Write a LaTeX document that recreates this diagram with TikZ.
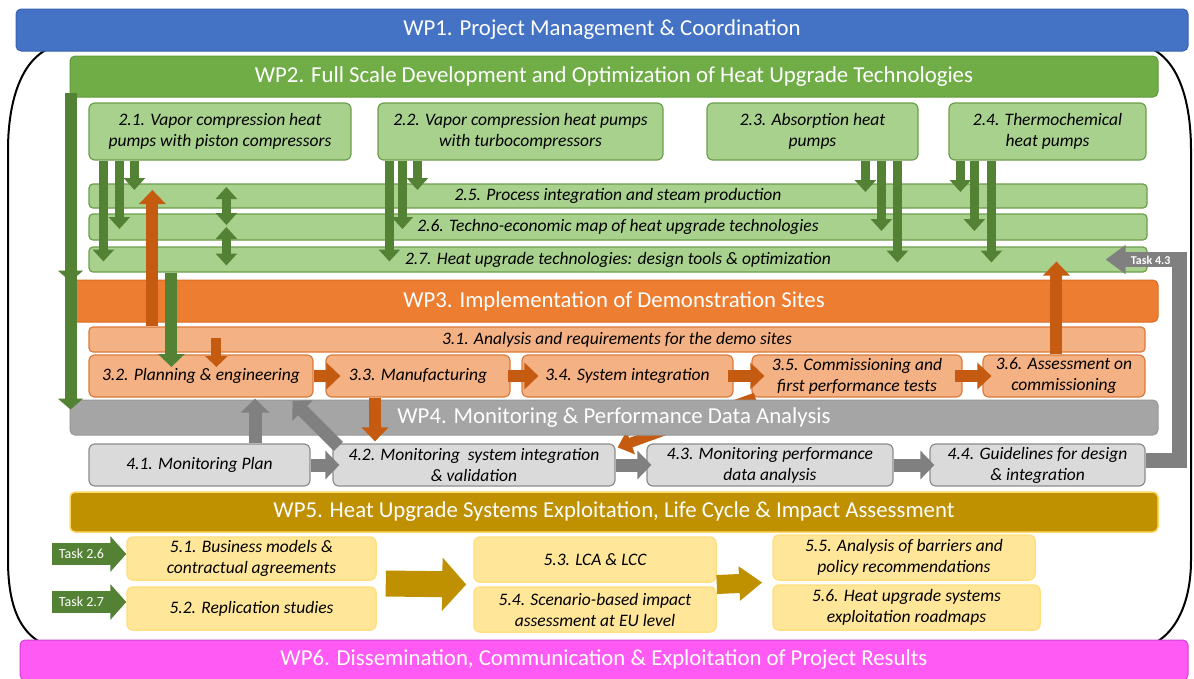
\documentclass[tikz,border=0pt]{standalone}
\usepackage{fontspec}
\setmainfont{Carlito}
\usetikzlibrary{arrows.meta,calc}

\definecolor{wpblue}{HTML}{4472C4}
\definecolor{wpblueline}{HTML}{3A63AE}
\definecolor{wpgreen}{HTML}{70AD47}
\definecolor{wpgreenline}{HTML}{5E9A3A}
\definecolor{tgreen}{HTML}{A9D18E}
\definecolor{tgreenline}{HTML}{6B9E4A}
\definecolor{agreen}{HTML}{548235}
\definecolor{wporange}{HTML}{ED7D31}
\definecolor{wporangeline}{HTML}{D86C24}
\definecolor{torange}{HTML}{F4B183}
\definecolor{torangeline}{HTML}{DC7A3A}
\definecolor{aorange}{HTML}{C55A11}
\definecolor{wpgray}{HTML}{A5A5A5}
\definecolor{wpgrayline}{HTML}{979797}
\definecolor{tgray}{HTML}{DADADA}
\definecolor{tgrayline}{HTML}{8C8C8C}
\definecolor{agray}{HTML}{808080}
\definecolor{wpgold}{HTML}{BF9000}
\definecolor{wpgoldline}{HTML}{FFD966}
\definecolor{tyellow}{HTML}{FFE699}
\definecolor{tyellowline}{HTML}{FFDF80}
\definecolor{wppink}{HTML}{FF5BF4}
\definecolor{wppinkline}{HTML}{D43ED4}

\begin{document}
\begin{tikzpicture}[x=1pt,y=-1pt]
    \tikzstyle{wp} = [rounded corners=5,inner sep=0,line width=1,text=white,font=\fontsize{22.8}{26}\selectfont]
    \tikzstyle{task} = [rounded corners=6,inner sep=0,line width=1.2,align=center,font=\fontsize{17.5}{21}\selectfont\itshape]
    \tikzstyle{gtask} = [task,fill=tgreen,draw=tgreenline]
    \tikzstyle{otask} = [task,fill=torange,draw=torangeline]
    \tikzstyle{ktask} = [task,fill=tgray,draw=tgrayline]
    \tikzstyle{ytask} = [task,fill=tyellow,draw=tyellowline,line width=1.5]
    \tikzstyle{tag} = [fill=agreen,inner sep=0,minimum width=59,minimum height=22,text=white,font=\fontsize{14}{16}\selectfont]

    \tikzstyle{garrow} = [draw=agreen,line width=9,-{Triangle[width=21pt,length=12pt]}]
    \tikzstyle{gboth} = [draw=agreen,line width=9,{Triangle[width=21pt,length=12pt]}-{Triangle[width=21pt,length=12pt]}]
    \tikzstyle{gmain} = [draw=agreen,line width=12,-{Triangle[width=25pt,length=11pt]}]
    \tikzstyle{oarrow} = [draw=aorange,line width=12,-{Triangle[width=26pt,length=14pt]}]
    \tikzstyle{karrow} = [draw=agray,line width=13,-{Triangle[width=28pt,length=14pt]}]
    \tikzstyle{tagarrow} = [draw=agreen,line width=22,-{Triangle[width=35pt,length=16pt]}]

    \useasboundingbox (0,0) rectangle (1194,678);

    % frame round WP2 to WP5
    \draw[line width=2] (70,44) .. controls (25,44) and (8,95) .. (8,150) -- (8,560)
        .. controls (8,610) and (22,648) .. (70,650) -- (1130,650)
        .. controls (1170,648) and (1191,610) .. (1191,560) -- (1191,150)
        .. controls (1191,95) and (1175,44) .. (1130,44) -- cycle;

    \node[wp,fill=wpblue,draw=wpblueline,minimum width=1172,minimum height=42] (wp1) at (602,30) {WP1. Project Management \& Coordination};
    \node[wp,fill=wppink,draw=wppinkline,minimum width=1168,minimum height=40] (wp6) at (604,660) {WP6. Dissemination, Communication \& Exploitation of Project Results};

    \node[wp,fill=wpgreen,draw=wpgreenline,minimum width=1088,minimum height=41] (wp2) at (614,76.5) {WP2. Full Scale Development and Optimization of Heat Upgrade Technologies};
    \node[gtask,minimum width=262,minimum height=57] (t21) at (220,131.5) {2.1. Vapor compression heat\\pumps with piston compressors};
    \node[gtask,minimum width=285,minimum height=57] (t22) at (520.5,131.5) {2.2. Vapor compression heat pumps\\with turbocompressors};
    \node[gtask,minimum width=211,minimum height=57] (t23) at (812.5,131.5) {2.3. Absorption heat\\pumps};
    \node[gtask,minimum width=197,minimum height=57] (t24) at (1047.5,131.5) {2.4. Thermochemical\\heat pumps};
    \node[gtask,rounded corners=4,minimum width=1058,minimum height=24] (t25) at (618,196) {2.5. Process integration and steam production};
    \node[gtask,rounded corners=4,minimum width=1058,minimum height=26] (t26) at (618,227) {2.6. Techno-economic map of heat upgrade technologies};
    \node[gtask,rounded corners=4,minimum width=1058,minimum height=25] (t27) at (618,259.5) {2.7. Heat upgrade technologies: design tools \& optimization};

    \node[wp,fill=wporange,draw=wporangeline,minimum width=1088,minimum height=42] (wp3) at (614,301) {WP3. Implementation of Demonstration Sites};
    \node[otask,rounded corners=4,minimum width=1056,minimum height=25] (t31) at (617,339.5) {3.1. Analysis and requirements for the demo sites};
    \node[otask,minimum width=224,minimum height=42] (t32) at (201,376) {3.2. Planning \& engineering};
    \node[otask,minimum width=184,minimum height=42] (t33) at (418,376) {3.3. Manufacturing};
    \node[otask,minimum width=211,minimum height=42] (t34) at (627.5,376) {3.4. System integration};
    \node[otask,minimum width=210,minimum height=42] (t35) at (857,376) {3.5. Commissioning and\\first performance tests};
    \node[otask,minimum width=162,minimum height=42] (t36) at (1064,376) {3.6. Assessment on\\commissioning};

    \node[ktask,minimum width=221,minimum height=42] (t41) at (199.5,465) {4.1. Monitoring Plan};
    \node[ktask,minimum width=282,minimum height=42] (t42) at (474,465) {4.2. Monitoring\ \ system integration\\\& validation};
    \node[ktask,minimum width=246,minimum height=42] (t43) at (770,465) {4.3. Monitoring performance\\data analysis};
    \node[ktask,minimum width=215,minimum height=42] (t44) at (1037.5,465) {4.4. Guidelines for design\\\& integration};

    % runs under the WP4 bar
    \draw[oarrow,line width=10,-{Triangle[width=24pt,length=14pt]}] ($(t35.south west)+(4,0)$) -- ($(t42.north east)+(2,4)$);

    \node[wp,fill=wpgray,draw=wpgrayline,minimum width=1088,minimum height=35] (wp4) at (614,417.5) {WP4. Monitoring \& Performance Data Analysis};

    \node[wp,fill=wpgold,draw=wpgoldline,line width=1.5,minimum width=1088,minimum height=40] (wp5) at (614,512) {WP5. Heat Upgrade Systems Exploitation, Life Cycle \& Impact Assessment};
    \node[ytask,minimum width=249,minimum height=43] (t51) at (251.5,558.5) {5.1. Business models \&\\contractual agreements};
    \node[ytask,minimum width=249,minimum height=43] (t52) at (251.5,608.5) {5.2. Replication studies};
    \node[ytask,minimum width=242,minimum height=45] (t53) at (595,559.5) {5.3. LCA \& LCC};
    \node[ytask,minimum width=242,minimum height=45] (t54) at (595,609.5) {5.4. Scenario-based impact\\assessment at EU level};
    \node[ytask,minimum width=262,minimum height=45] (t55) at (904,557.5) {5.5. Analysis of barriers and\\policy recommendations};
    \node[ytask,minimum width=267,minimum height=45] (t56) at (906.5,607.5) {5.6. Heat upgrade systems\\exploitation roadmaps};

    \node[tag] (k26) at (81.5,554) {Task 2.6};
    \node[tag] (k27) at (81.5,602) {Task 2.7};

    % WP2 tasks down to 2.5 - 2.7
    \draw[gmain] ($(wp2.south west)+(1,-5)$) -- ($(wp2.south west |- wp3.north)+(1,2)$);
    \draw[gmain] ($(wp2.south west)+(1,-5)$) -- ($(wp2.south west |- wp4.north)+(1,10)$);

    \draw[garrow] ($(t21.south west)+(15,0)$) -- ($(t21.south west |- t27.center)+(15,2)$);
    \draw[garrow] ($(t21.south west)+(31,0)$) -- ($(t21.south west |- t26.center)+(31,2)$);
    \draw[garrow] ($(t21.south west)+(46,0)$) -- ($(t21.south west |- t25.center)+(46,-6)$);

    \draw[garrow] ($(t22.south west)+(12,0)$) -- ($(t22.south west |- t27.center)+(12,2)$);
    \draw[garrow] ($(t22.south west)+(25,0)$) -- ($(t22.south west |- t26.center)+(25,2)$);
    \draw[garrow] ($(t22.south west)+(40,0)$) -- ($(t22.south west |- t25.center)+(40,-6)$);

    \draw[garrow] ($(t23.south west)+(159,0)$) -- ($(t23.south west |- t25.center)+(159,-4)$);
    \draw[garrow] ($(t23.south west)+(175,0)$) -- ($(t23.south west |- t26.center)+(175,4)$);
    \draw[garrow] ($(t23.south west)+(191,0)$) -- ($(t23.south west |- t27.center)+(191,3)$);

    \draw[garrow] ($(t24.south west)+(12,0)$) -- ($(t24.south west |- t25.center)+(12,-4)$);
    \draw[garrow] ($(t24.south west)+(26,0)$) -- ($(t24.south west |- t26.center)+(26,4)$);
    \draw[garrow] ($(t24.south west)+(43,0)$) -- ($(t24.south west |- t27.center)+(43,3)$);

    \draw[gboth] ($(t25.west)+(138,-9)$) -- ($(t26.west)+(138,-2)$);
    \draw[gboth] ($(t26.west)+(138,0)$) -- ($(t27.west)+(138,6)$);

    \draw[gmain,line width=12,-{Triangle[width=26pt,length=13pt]}] ($(t27.south west)+(83,0)$) -- ($(t27.south west |- t32.center)+(83,-9)$);

    % WP3 feedback and flow
    \draw[oarrow] ($(t31.north west)+(64,0)$) -- ($(t31.north west |- t25.center)+(64,-6)$);
    \draw[oarrow,line width=10,-{Triangle[width=22pt,length=11pt]}] ($(t31.west)+(128,-2)$) -- ($(t31.west |- t32.center)+(128,-9)$);
    \draw[oarrow] ($(t36.north west)+(74,0)$) -- ($(t36.north west |- t27.center)+(74,2)$);

    \draw[oarrow] (t32.east) -- ($(t33.west)+(15,0)$);
    \draw[oarrow] ($(t33.east)+(-3,0)$) -- ($(t34.west)+(17,0)$);
    \draw[oarrow] ($(t34.east)+(-6,0)$) -- ($(t35.west)+(13,0)$);
    \draw[oarrow] ($(t35.east)+(-8,0)$) -- ($(t36.west)+(9,0)$);
    \draw[oarrow] ($(t33.south)+(-43,0)$) -- ($(t33.south |- t42.north)+(-43,-2)$);

    % WP4 flow
    \draw[karrow] ($(t41.north)+(55.5,0)$) -- ($(t41.north |- t32.south)+(55.5,1)$);
    \draw[karrow] ($(t42.north west)+(6,3)$) -- ($(t32.south east)+(-21,3)$);
    \draw[karrow] (t41.east) -- ($(t42.west)+(7,0)$);
    \draw[karrow] (t42.east) -- ($(t43.west)+(5,0)$);
    \draw[karrow] (t43.east) -- ($(t44.west)+(5,0)$);

    \draw[karrow,line width=15,-{Triangle[width=28pt,length=20pt]}] ($(t44.east)+(0,-5)$) -| ($(t27.east)+(32,0)$) -- ($(t27.east)+(-42,0)$);
    \node[text=white,inner sep=0,font=\fontsize{12}{14}\selectfont\bfseries] (k43) at ($(t27.east)+(3,1)$) {Task 4.3};

    % WP5 flow
    \draw[tagarrow] (k26.east) -- (k26.east -| t51.west);
    \draw[tagarrow] (k27.east) -- (k27.east -| t52.west);
    \draw[draw=wpgold,line width=26,-{Triangle[width=52pt,length=24pt]}] ($(t51.south east)!0.5!(t52.north east)+(9,0)$) -- ($(t53.south west)!0.5!(t54.north west)+(-7,0)$);
    \draw[draw=wpgold,line width=19,-{Triangle[width=33pt,length=23pt]}] ($(t53.south east)!0.5!(t54.north east)$) -- ($(t55.south west)!0.5!(t56.north west)+(-10,0)$);

    %\draw[karrow] (t43) -- (t36);

\end{tikzpicture}
\end{document}
